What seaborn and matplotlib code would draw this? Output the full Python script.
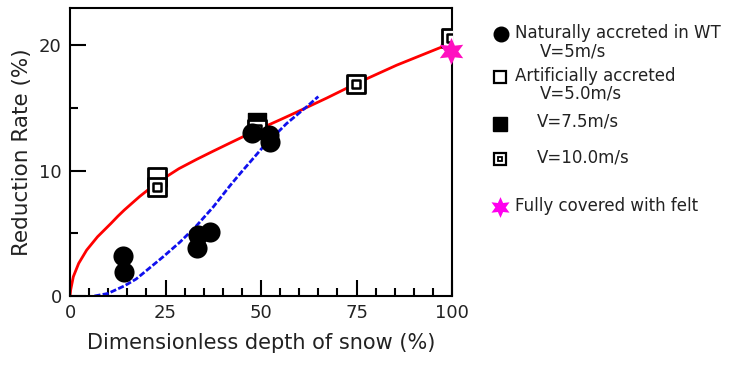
import numpy as np
import pandas as pd
import seaborn as sns
import matplotlib.pyplot as plt

sns.set_theme(style="white")
plt.rcParams['font.family'] = ['DejaVu Sans']

# naturally accreted in wind tunnel, V=5m/s
nat_x = [13.8, 14.2, 33.2, 33.6, 36.6, 47.6, 52.0, 52.4]
nat_y = [3.2, 1.9, 3.8, 4.9, 5.1, 13.0, 12.8, 12.3]
# artificially accreted
art5_x = [22.7]
art5_y = [9.5]
art75_x = [48.9]
art75_y = [13.9]
art10_x = [22.7, 48.9, 74.9, 99.7]
art10_y = [8.7, 13.3, 16.9, 20.6]
# fully covered with felt
felt_x = [99.8]
felt_y = [19.5]

# fitted curves
red_x = [0, 0.17, 0.87, 2.27, 4.36, 7.2, 10.7, 12.5, 14.2, 16.8, 18.3, 21.0, 24.4,
         28.5, 33.2, 37.5, 41.9, 46.0, 50.6, 55.0, 59.3, 63.0, 67.2, 75.0, 85.5, 96.9, 100]
red_y = [0, 0.48, 1.54, 2.6, 3.66, 4.72, 5.78, 6.35, 6.85, 7.55, 7.95, 8.6, 9.35,
         10.15, 10.9, 11.55, 12.2, 12.8, 13.45, 14.05, 14.65, 15.18, 15.78, 16.95, 18.4, 19.8, 20.1]
blue_x = [6.4, 9.9, 14.2, 17.3, 20.1, 24.4, 28.8, 33.2, 37.5, 41.9, 44.5, 50.6,
          56.7, 62.0, 65.0]
blue_y = [0, 0.2, 0.8, 1.35, 2.05, 3.13, 4.3, 5.63, 7.1, 8.8, 9.75, 11.9,
          13.75, 15.1, 15.9]

red = pd.DataFrame({"x": red_x, "y": red_y})
blue = pd.DataFrame({"x": blue_x, "y": blue_y})

star = (6, 1, 0)
pink = '#ff10c0'

fig = plt.figure(figsize=(7.39, 3.67), dpi=100)
ax = fig.add_axes([70 / 739, 1 - 296 / 367, 382 / 739, 288.5 / 367])

sns.lineplot(data=red, x="x", y="y", color='red', lw=2, estimator=None, ax=ax, zorder=2)
sns.lineplot(data=blue, x="x", y="y", color='#1010ee', lw=2, estimator=None, ax=ax, zorder=2)
ax.lines[0].set_solid_joinstyle('round')
ax.lines[1].set_linestyle((0, (2.2, 0.8)))
ax.lines[1].set_dash_joinstyle('round')

sns.scatterplot(x=art5_x, y=art5_y, marker='s', s=150, facecolor='white', edgecolor='black',
                linewidth=2, ax=ax, zorder=3)
sns.scatterplot(x=art75_x, y=art75_y, marker='s', s=170, color='black', edgecolor='black',
                linewidth=1, ax=ax, zorder=3)
sns.scatterplot(x=art10_x, y=art10_y, marker='s', s=150, facecolor='white', edgecolor='black',
                linewidth=2, ax=ax, zorder=4)
sns.scatterplot(x=art10_x, y=art10_y, marker='s', s=28, facecolor='white', edgecolor='black',
                linewidth=1.8, ax=ax, zorder=4)
sns.scatterplot(x=nat_x, y=nat_y, marker='o', s=210, color='black', edgecolor='black',
                linewidth=0, ax=ax, zorder=5)
sns.scatterplot(x=felt_x, y=felt_y, marker=star, s=380, color=pink, edgecolor=pink,
                linewidth=0, ax=ax, zorder=6, clip_on=False)

ax.set_xlim(0, 100)
ax.set_ylim(0, 23)
ax.set_xticks([0, 25, 50, 75, 100])
ax.set_xticks(np.arange(0, 101, 5), minor=True)
ax.set_yticks([0, 10, 20])
ax.set_yticks([5, 15], minor=True)
ax.tick_params(which='major', direction='in', length=11.5, width=1.5, labelsize=13,
               color='black', labelcolor='#222222', pad=6)
ax.tick_params(which='minor', direction='in', length=6, width=1.5, color='black')
ax.tick_params(bottom=True, left=True, which='both')
for sp in ax.spines.values():
    sp.set_color('black')
    sp.set_linewidth(1.5)
ax.set_xlabel('Dimensionless depth of snow (%)', fontsize=15, color='#222222', labelpad=8)
ax.set_ylabel('Reduction Rate (%)', fontsize=15.5, color='#222222', labelpad=5)

# legend drawn on an overlay in pixel coordinates
lax = fig.add_axes([0, 0, 1, 1], facecolor='none')
lax.set_xlim(0, 739)
lax.set_ylim(367, 0)
lax.axis('off')
lax.plot(501, 34, marker='o', ms=10.5, color='black', mec='black')
lax.plot(500, 77, marker='s', ms=8.5, mfc='white', mec='black', mew=1.6)
lax.plot(500, 124, marker='s', ms=9.5, color='black')
lax.plot(500, 159, marker='s', ms=8, mfc='white', mec='black', mew=1.6)
lax.plot(500, 159, marker='s', ms=3, mfc='white', mec='black', mew=1.3)
lax.plot(500, 207, marker=star, ms=15, color='#ff00ee', mec='#ff00ee', mew=0)
kw = dict(fontsize=12, color='#222222', va='center', ha='left')
lax.text(515, 33, 'Naturally accreted in WT', **kw)
lax.text(540, 52, 'V=5m/s', **kw)
lax.text(515, 76, 'Artificially accreted', **kw)
lax.text(540, 94, 'V=5.0m/s', **kw)
lax.text(537, 122, 'V=7.5m/s', **kw)
lax.text(537, 158, 'V=10.0m/s', **kw)
lax.text(515, 206, 'Fully covered with felt', **kw)

fig.savefig('out.png', dpi=100)
